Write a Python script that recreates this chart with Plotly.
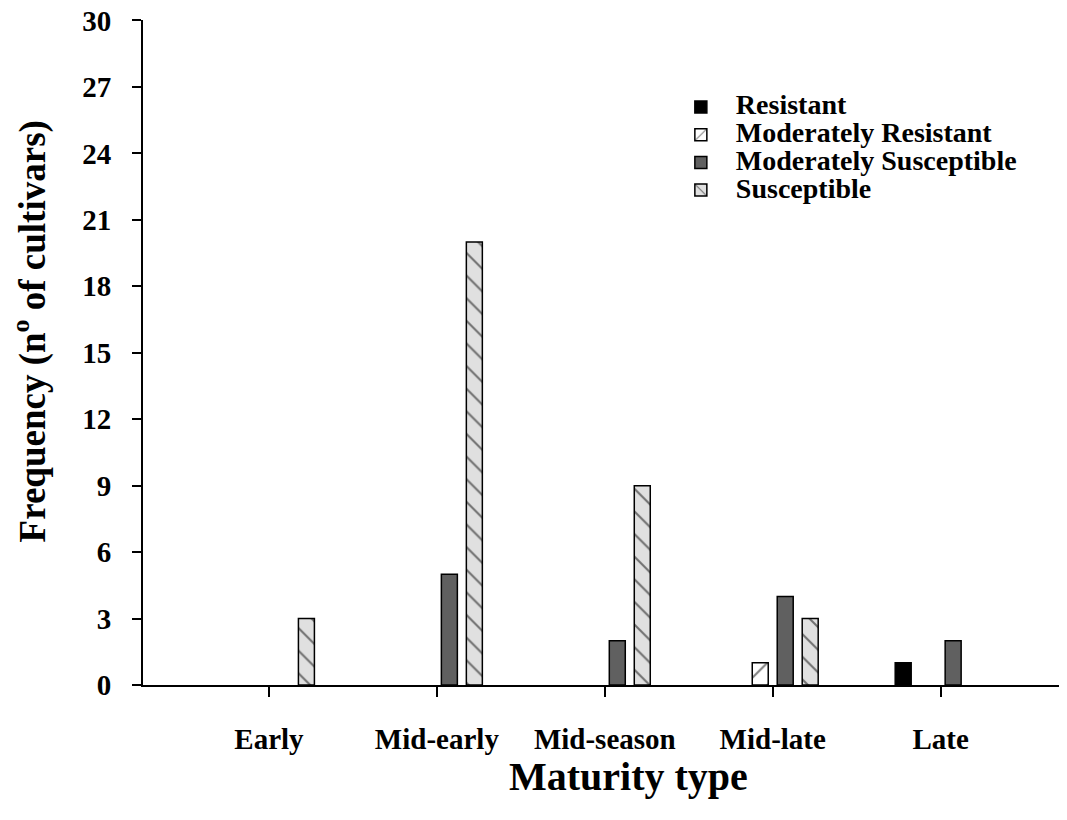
import plotly.graph_objects as go

categories = ["Early", "Mid-early", "Mid-season", "Mid-late", "Late"]
resistant = [0, 0, 0, 0, 1]
mod_resistant = [0, 0, 0, 1, 0]
mod_susceptible = [0, 5, 2, 4, 2]
susceptible = [3, 20, 9, 3, 0]
y_ticks = list(range(0, 31, 3))

FONT = "Liberation Serif, Times New Roman, serif"
LINE = dict(color="black", width=1.5)


def nonzero(vals):
    # empty (zero) bars are not drawn in the reference
    pairs = [(c, v) for c, v in zip(categories, vals) if v != 0]
    return [p[0] for p in pairs], [p[1] for p in pairs]


def lname(t):
    return '<span style="font-size:28px">' + t + "</span>"


fig = go.Figure()
x, y = nonzero(resistant)
fig.add_trace(go.Bar(x=x, y=y, name=lname("Resistant"),
                     marker=dict(color="black", line=LINE)))
x, y = nonzero(mod_resistant)
fig.add_trace(go.Bar(x=x, y=y, name=lname("Moderately Resistant"),
                     marker=dict(color="white", line=LINE,
                                 pattern=dict(shape="/", fgcolor="black", bgcolor="white",
                                              size=16, solidity=0.13))))
x, y = nonzero(mod_susceptible)
fig.add_trace(go.Bar(x=x, y=y, name=lname("Moderately Susceptible"),
                     marker=dict(color="#606060", line=LINE)))
x, y = nonzero(susceptible)
fig.add_trace(go.Bar(x=x, y=y, name=lname("Susceptible"),
                     marker=dict(color="#e0e0e0", line=LINE,
                                 pattern=dict(shape="\\", fgcolor="black", bgcolor="#e0e0e0",
                                              size=16, solidity=0.13))))

fig.update_layout(
    width=1067, height=820,
    margin=dict(l=135, r=0, t=12, b=143),
    paper_bgcolor="white", plot_bgcolor="white",
    barmode="group", bargap=0.405, bargroupgap=0.36,
    font=dict(family=FONT, color="black", size=29, weight="bold"),
    legend=dict(x=0.561, y=0.8975, xanchor="left", yanchor="top",
                font=dict(family=FONT, size=19, weight="bold"),
                bgcolor="rgba(0,0,0,0)", tracegroupgap=0, itemwidth=60),
    showlegend=True,
    annotations=[
        dict(text="Maturity type", xref="paper", yref="paper", x=0.521, y=-0.138,
             xanchor="center", yanchor="middle", showarrow=False,
             font=dict(family=FONT, size=40, weight="bold")),
        dict(text="Frequency (n<sup>o</sup> of cultivars)", xref="paper", yref="paper",
             x=-0.121, y=0.532, xanchor="center", yanchor="middle", showarrow=False,
             textangle=-90, font=dict(family=FONT, size=37, weight="bold")),
    ],
)
fig.update_xaxes(
    type="category", categoryorder="array", categoryarray=categories,
    range=[-0.75, 4.80], showline=True, linecolor="black", linewidth=2,
    ticks="outside", ticklen=10, tickwidth=1.5, tickcolor="black",
    showgrid=False, zeroline=False, automargin=False, ticklabelstandoff=17,
    tickfont=dict(family=FONT, size=29, weight="bold"),
)
fig.update_yaxes(
    range=[0, 30.02], tickvals=y_ticks, showline=True, linecolor="black", linewidth=2,
    ticks="outside", ticklen=9, tickwidth=1.5, tickcolor="black",
    showgrid=False, zeroline=False, automargin=False, ticklabelstandoff=15,
    ticklabeloverflow="allow",
    tickfont=dict(family=FONT, size=29, weight="bold"),
)

fig.write_html("out.html")
